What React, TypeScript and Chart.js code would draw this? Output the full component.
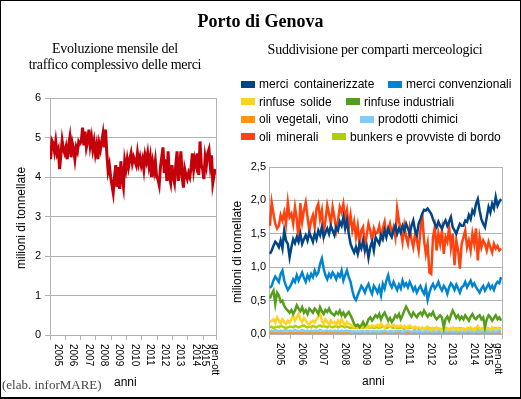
import React, { useEffect, useRef } from 'react';
import { Chart, registerables } from 'chart.js';
Chart.register(...registerables);

// ---------- data ----------
const yearLabels: (string | string[])[] = ['2005', '2006', '2007', '2008', '2009', '2010', '2011', '2012', '2013', '2014', ['gen-ott', '2015']];
const monthsPerYear = [12, 12, 12, 12, 12, 12, 12, 12, 12, 12, 10];

const totalTraffic = [
  4.45, 4.92, 4.85, 4.65, 4.90, 4.60, 4.70, 4.20, 4.55, 4.92, 4.70, 4.60,
  4.75, 4.45, 4.80, 5.00, 4.50, 4.85, 4.70, 4.45, 4.75, 4.65, 4.90, 4.85,
  4.90, 5.25, 4.80, 5.15, 4.75, 4.90, 5.20, 4.80, 5.00, 4.70, 4.90, 4.60,
  4.80, 4.45, 4.85, 4.70, 4.90, 5.10, 4.75, 5.20, 4.60, 4.15, 4.30, 4.00,
  3.80, 3.60, 4.00, 4.30, 3.75, 4.25, 3.70, 4.40, 3.95, 3.75, 4.40, 4.20,
  4.45, 4.25, 4.45, 4.60, 4.35, 4.50, 4.40, 4.30, 4.60, 4.35, 4.50, 4.30,
  4.45, 4.20, 4.55, 4.40, 4.60, 4.30, 4.50, 4.00, 4.35, 4.15, 4.40, 4.00,
  3.95, 3.80, 4.25, 4.50, 4.75, 4.10, 4.45, 3.90, 4.65, 4.00, 3.85, 4.30,
  4.00, 3.85, 4.30, 4.65, 3.90, 4.20, 4.65, 4.00, 3.73, 4.20, 4.05, 3.95,
  4.10, 4.00, 4.25, 4.60, 4.20, 4.45, 4.30, 4.60, 4.05, 4.90, 4.30, 4.20,
  3.95, 4.50, 4.30, 4.60, 4.70, 4.30, 4.55, 3.85, 4.05, 4.20,
];

const containerizzate = [
  1.20, 1.25, 1.32, 1.38, 1.35, 1.30, 1.40, 1.28, 1.55, 1.40, 1.35, 1.15,
  1.30, 1.42, 1.36, 1.45, 1.38, 1.50, 1.35, 1.42, 1.48, 1.40, 1.52, 1.45,
  1.38, 1.50, 1.42, 1.55, 1.48, 1.60, 1.45, 1.52, 1.58, 1.50, 1.62, 1.55,
  1.48, 1.60, 1.55, 1.68, 1.62, 1.75, 1.58, 1.70, 1.50, 1.35, 1.28, 1.22,
  1.30, 1.20, 1.35, 1.28, 1.40, 1.25, 1.32, 1.14, 1.30, 1.38, 1.25, 1.45,
  1.40, 1.35, 1.48, 1.42, 1.55, 1.45, 1.58, 1.50, 1.45, 1.55, 1.62, 1.50,
  1.58, 1.52, 1.62, 1.55, 1.65, 1.58, 1.50, 1.62, 1.70, 1.55, 1.48, 1.65,
  1.72, 1.80, 1.86, 1.85, 1.88, 1.84, 1.80, 1.72, 1.65, 1.60, 1.68, 1.62,
  1.58, 1.65, 1.70, 1.62, 1.68, 1.75, 1.60, 1.55, 1.50, 1.58, 1.65, 1.62,
  1.62, 1.70, 1.68, 1.78, 1.72, 1.85, 1.80, 1.95, 2.02, 1.85, 1.72, 1.65,
  1.60, 1.75, 1.90, 1.82, 1.95, 1.88, 2.05, 1.92, 1.98, 2.02,
];

const convenzionali = [
  0.69, 0.72, 0.80, 0.86, 0.82, 0.78, 0.90, 0.95, 0.80, 0.72, 0.66, 0.70,
  0.75, 0.82, 0.78, 0.88, 0.80, 0.86, 0.92, 0.84, 0.78, 0.88, 0.82, 0.90,
  0.85, 0.95, 0.88, 0.92, 1.05, 1.13, 0.98, 0.88, 0.82, 0.90, 0.85, 0.92,
  0.88, 0.82, 0.90, 0.86, 0.95, 0.80, 0.88, 0.95, 0.85, 0.78, 0.65, 0.55,
  0.51, 0.58, 0.65, 0.72, 0.68, 0.62, 0.70, 0.75, 0.66, 0.60, 0.72, 0.68,
  0.62, 0.70, 0.58, 0.75, 0.68, 0.80, 0.88, 0.75, 0.70, 0.78, 0.72, 0.66,
  0.74, 0.68, 0.80, 0.72, 0.76, 0.70, 0.78, 0.72, 0.65, 0.70, 0.62, 0.68,
  0.72, 0.65, 0.60, 0.70, 0.51, 0.62, 0.70, 0.75, 0.68, 0.72, 0.78, 0.70,
  0.65, 0.72, 0.68, 0.60, 0.70, 0.76, 0.72, 0.66, 0.74, 0.68, 0.62, 0.70,
  0.72, 0.78, 0.70, 0.75, 0.80, 0.72, 0.76, 0.70, 0.66, 0.62, 0.68, 0.72,
  0.65, 0.70, 0.75, 0.68, 0.72, 0.66, 0.74, 0.78, 0.76, 0.85,
];

const rinfuseSolide = [
  0.18, 0.20, 0.22, 0.17, 0.25, 0.20, 0.16, 0.22, 0.18, 0.15, 0.20, 0.17,
  0.22, 0.28, 0.20, 0.25, 0.30, 0.22, 0.18, 0.24, 0.20, 0.16, 0.14, 0.18,
  0.20, 0.17, 0.22, 0.26, 0.30, 0.20, 0.15, 0.22, 0.18, 0.14, 0.20, 0.16,
  0.18, 0.14, 0.20, 0.15, 0.22, 0.17, 0.13, 0.18, 0.15, 0.14, 0.12, 0.10,
  0.11, 0.09, 0.12, 0.10, 0.14, 0.11, 0.09, 0.12, 0.10, 0.13, 0.11, 0.12,
  0.14, 0.11, 0.16, 0.12, 0.10, 0.13, 0.15, 0.11, 0.12, 0.14, 0.10, 0.12,
  0.11, 0.13, 0.10, 0.12, 0.09, 0.11, 0.13, 0.10, 0.08, 0.11, 0.09, 0.10,
  0.08, 0.10, 0.07, 0.09, 0.11, 0.08, 0.06, 0.09, 0.07, 0.10, 0.08, 0.07,
  0.06, 0.08, 0.07, 0.09, 0.06, 0.08, 0.10, 0.07, 0.09, 0.06, 0.08, 0.07,
  0.08, 0.06, 0.09, 0.07, 0.10, 0.08, 0.06, 0.09, 0.12, 0.08, 0.07, 0.09,
  0.07, 0.09, 0.08, 0.06, 0.10, 0.08, 0.07, 0.09, 0.08, 0.07,
];

const rinfuseIndustriali = [
  0.53, 0.60, 0.65, 0.45, 0.62, 0.58, 0.48, 0.50, 0.42, 0.38, 0.35, 0.32,
  0.36, 0.30, 0.35, 0.43, 0.38, 0.34, 0.40, 0.32, 0.36, 0.30, 0.38, 0.35,
  0.32, 0.38, 0.35, 0.30, 0.40, 0.34, 0.30, 0.36, 0.33, 0.38, 0.32, 0.30,
  0.28, 0.33, 0.30, 0.35, 0.28, 0.32, 0.26, 0.30, 0.33, 0.28, 0.22, 0.15,
  0.12, 0.14, 0.10, 0.13, 0.18, 0.12, 0.15, 0.22, 0.25, 0.20, 0.24, 0.28,
  0.25, 0.30, 0.22, 0.28, 0.32, 0.26, 0.20, 0.24, 0.18, 0.22, 0.28, 0.25,
  0.30, 0.22, 0.28, 0.35, 0.41, 0.36, 0.30, 0.26, 0.32, 0.28, 0.25, 0.30,
  0.32, 0.28, 0.35, 0.30, 0.26, 0.30, 0.28, 0.33, 0.26, 0.22, 0.25, 0.28,
  0.25, 0.10, 0.22, 0.26, 0.20, 0.28, 0.35, 0.30, 0.24, 0.28, 0.22, 0.26,
  0.22, 0.28, 0.24, 0.20, 0.26, 0.30, 0.24, 0.22, 0.26, 0.28, 0.22, 0.25,
  0.10, 0.22, 0.28, 0.25, 0.20, 0.24, 0.28, 0.22, 0.25, 0.20,
];

const oliVegetali = [
  0.02, 0.01, 0.02, 0.02, 0.01, 0.02, 0.01, 0.02, 0.02, 0.01, 0.02, 0.01,
  0.01, 0.02, 0.01, 0.02, 0.02, 0.01, 0.02, 0.01, 0.01, 0.02, 0.01, 0.02,
  0.02, 0.01, 0.02, 0.01, 0.01, 0.02, 0.01, 0.02, 0.01, 0.01, 0.02, 0.01,
  0.01, 0.02, 0.01, 0.01, 0.02, 0.01, 0.01, 0.02, 0.01, 0.01, 0.01, 0.02,
  0.01, 0.01, 0.02, 0.01, 0.01, 0.01, 0.02, 0.01, 0.01, 0.02, 0.01, 0.01,
  0.01, 0.02, 0.01, 0.01, 0.01, 0.02, 0.01, 0.01, 0.02, 0.01, 0.01, 0.01,
  0.02, 0.01, 0.01, 0.01, 0.02, 0.01, 0.01, 0.01, 0.02, 0.01, 0.01, 0.02,
  0.01, 0.01, 0.01, 0.02, 0.01, 0.01, 0.02, 0.01, 0.01, 0.01, 0.02, 0.01,
  0.01, 0.02, 0.01, 0.01, 0.01, 0.02, 0.01, 0.01, 0.01, 0.02, 0.01, 0.01,
  0.02, 0.01, 0.01, 0.01, 0.02, 0.01, 0.01, 0.02, 0.01, 0.01, 0.01, 0.02,
  0.01, 0.01, 0.02, 0.01, 0.01, 0.01, 0.02, 0.01, 0.01, 0.02,
];

const prodottiChimici = [
  0.04, 0.05, 0.04, 0.06, 0.05, 0.04, 0.05, 0.04, 0.05, 0.06, 0.04, 0.05,
  0.05, 0.04, 0.06, 0.05, 0.04, 0.05, 0.06, 0.05, 0.04, 0.05, 0.04, 0.05,
  0.04, 0.05, 0.05, 0.04, 0.06, 0.05, 0.04, 0.05, 0.05, 0.04, 0.05, 0.04,
  0.05, 0.04, 0.05, 0.04, 0.05, 0.04, 0.04, 0.05, 0.04, 0.04, 0.03, 0.04,
  0.03, 0.04, 0.03, 0.04, 0.04, 0.03, 0.04, 0.04, 0.03, 0.04, 0.04, 0.03,
  0.04, 0.03, 0.04, 0.04, 0.05, 0.04, 0.03, 0.04, 0.04, 0.03, 0.04, 0.04,
  0.04, 0.04, 0.03, 0.04, 0.04, 0.05, 0.04, 0.03, 0.04, 0.04, 0.03, 0.04,
  0.04, 0.03, 0.04, 0.04, 0.03, 0.04, 0.04, 0.03, 0.04, 0.03, 0.04, 0.04,
  0.03, 0.04, 0.04, 0.03, 0.04, 0.04, 0.03, 0.04, 0.03, 0.04, 0.04, 0.03,
  0.04, 0.03, 0.04, 0.04, 0.03, 0.04, 0.03, 0.04, 0.04, 0.03, 0.04, 0.04,
  0.03, 0.04, 0.04, 0.03, 0.04, 0.04, 0.03, 0.04, 0.04, 0.05,
];

const oliMinerali = [
  1.62, 1.97, 1.80, 1.65, 1.58, 1.62, 1.78, 1.70, 1.82, 1.65, 1.97, 1.75,
  1.80, 1.65, 1.90, 1.72, 1.40, 1.96, 1.68, 1.85, 1.97, 1.75, 1.55, 1.70,
  1.78, 1.60, 1.88, 1.95, 1.72, 1.85, 1.50, 1.70, 1.93, 1.80, 1.65, 1.90,
  1.75, 1.55, 1.70, 1.90, 1.82, 1.95, 1.72, 1.85, 1.60, 1.78, 1.55, 1.68,
  1.45, 1.62, 1.35, 1.55, 1.60, 1.28, 1.48, 1.65, 1.55, 1.40, 1.58, 1.50,
  1.52, 1.62, 1.45, 1.58, 1.68, 1.48, 1.55, 1.65, 1.50, 1.60, 1.45, 1.88,
  1.70, 1.55, 1.38, 1.62, 1.45, 1.35, 1.58, 1.42, 1.30, 1.50, 1.40, 1.25,
  1.55, 1.80, 1.40, 1.20, 1.35, 0.92, 0.90, 1.45, 1.60, 1.25, 1.50, 1.35,
  1.55, 1.20, 1.45, 1.38, 1.60, 1.30, 1.50, 1.03, 1.40, 1.25, 0.98, 1.35,
  1.45, 1.55, 1.30, 1.40, 1.25, 1.50, 1.35, 1.58, 1.10, 1.45, 1.30, 1.40,
  1.35, 1.25, 1.38, 1.30, 1.22, 1.35, 1.28, 1.32, 1.25, 1.28,
];

const bunkers = [
  0.10, 0.11, 0.09, 0.10, 0.11, 0.10, 0.12, 0.11, 0.10, 0.09, 0.10, 0.11,
  0.11, 0.10, 0.12, 0.11, 0.10, 0.11, 0.12, 0.13, 0.11, 0.10, 0.11, 0.10,
  0.12, 0.11, 0.10, 0.12, 0.13, 0.11, 0.12, 0.11, 0.10, 0.12, 0.11, 0.10,
  0.11, 0.12, 0.10, 0.11, 0.12, 0.11, 0.10, 0.11, 0.10, 0.09, 0.10, 0.09,
  0.09, 0.10, 0.09, 0.10, 0.09, 0.10, 0.11, 0.10, 0.09, 0.10, 0.09, 0.10,
  0.10, 0.09, 0.10, 0.11, 0.10, 0.09, 0.10, 0.11, 0.10, 0.09, 0.10, 0.09,
  0.09, 0.10, 0.09, 0.08, 0.09, 0.10, 0.09, 0.10, 0.09, 0.08, 0.09, 0.08,
  0.08, 0.09, 0.08, 0.09, 0.08, 0.09, 0.08, 0.07, 0.08, 0.09, 0.08, 0.08,
  0.07, 0.08, 0.09, 0.08, 0.07, 0.08, 0.09, 0.08, 0.07, 0.08, 0.09, 0.08,
  0.08, 0.07, 0.08, 0.09, 0.08, 0.07, 0.08, 0.09, 0.08, 0.07, 0.08, 0.09,
  0.08, 0.09, 0.08, 0.07, 0.08, 0.09, 0.08, 0.09, 0.08, 0.09,
];

const leftTicks = [0, 1, 2, 3, 4, 5, 6];
const rightTicks = [0, 0.5, 1, 1.5, 2, 2.5];

const seriesNames = [
  'merci containerizzate', 'merci convenzionali', 'rinfuse solide', 'rinfuse industriali',
  'oli vegetali, vino', 'prodotti chimici', 'oli minerali', 'bunkers e provviste di bordo',
];
const seriesColors = ['#004586', '#0084d1', '#ffd320', '#579d1c', '#ff950e', '#83caff', '#ff420e', '#aecf00'];
const seriesData = [containerizzate, convenzionali, rinfuseSolide, rinfuseIndustriali, oliVegetali, prodottiChimici, oliMinerali, bunkers];

// ---------- helpers ----------
const SANS = '"Liberation Sans", Arial, sans-serif';
const SERIF = '"Liberation Serif", "Times New Roman", serif';
const GRID = '#b3b3b3';

const boundaries: number[] = [0];
monthsPerYear.forEach((m) => boundaries.push(boundaries[boundaries.length - 1] + m));
const nMonths = boundaries[boundaries.length - 1];

const toPoints = (arr: number[]) => arr.map((v, i) => ({ x: i + 0.5, y: v }));

const framePlugin = {
  id: 'frameAndYears',
  beforeDatasetsDraw(chart: any) {
    const { ctx, chartArea } = chart;
    ctx.save();
    ctx.strokeStyle = GRID;
    ctx.lineWidth = 1;
    ctx.beginPath();
    ctx.moveTo(Math.round(chartArea.right) + 0.5, chartArea.top);
    ctx.lineTo(Math.round(chartArea.right) + 0.5, chartArea.bottom);
    ctx.stroke();
    ctx.restore();
  },
  afterDraw(chart: any) {
    const { ctx, chartArea } = chart;
    const xs = chart.scales.x;
    ctx.save();
    ctx.fillStyle = '#000';
    ctx.font = '10px ' + SANS;
    ctx.textAlign = 'left';
    ctx.textBaseline = 'middle';
    yearLabels.forEach((lab, i) => {
      const center = (boundaries[i] + boundaries[i + 1]) / 2;
      const px = xs.getPixelForValue(center);
      const lines = Array.isArray(lab) ? lab : [lab];
      ctx.save();
      ctx.translate(px, chartArea.bottom + 9);
      ctx.rotate(Math.PI / 2);
      lines.forEach((ln, j) => {
        const off = (j - (lines.length - 1) / 2) * 10;
        ctx.fillText(ln, 0, off);
      });
      ctx.restore();
    });
    ctx.restore();
  },
};

function makeOptions(yMax: number, step: number, yWidth: number, padding: any, yTickLen: number, comma: boolean) {
  return {
    responsive: false,
    animation: false as const,
    layout: { padding },
    plugins: { legend: { display: false }, tooltip: { enabled: false } },
    elements: { point: { radius: 0 }, line: { tension: 0 } },
    scales: {
      x: {
        type: 'linear' as const,
        min: 0,
        max: nMonths,
        afterBuildTicks: (s: any) => { s.ticks = boundaries.map((v) => ({ value: v })); },
        afterFit: (s: any) => { s.height = 10; },
        ticks: { display: false },
        grid: { drawOnChartArea: false, drawTicks: true, tickLength: 5, color: GRID },
        border: { display: true, color: GRID },
      },
      y: {
        min: 0,
        max: yMax,
        afterFit: (s: any) => { s.width = yWidth; },
        ticks: {
          stepSize: step,
          color: '#000',
          padding: yTickLen > 0 ? 4 : 3,
          font: { family: SANS, size: 11 },
          callback: (v: any) => (comma ? Number(v).toFixed(1).replace('.', ',') : String(v)),
        },
        grid: { color: GRID, drawTicks: yTickLen > 0, tickLength: yTickLen },
        border: { display: true, color: GRID },
      },
    },
  };
}

function LeftChart() {
  const ref = useRef<HTMLCanvasElement>(null);
  useEffect(() => {
    const chart = new Chart(ref.current as HTMLCanvasElement, {
      type: 'line',
      data: {
        datasets: [{
          data: toPoints(totalTraffic),
          borderColor: '#c5000b',
          borderWidth: 3,
          fill: false,
        }],
      },
      options: makeOptions(leftTicks[leftTicks.length - 1], 1, 50, { top: 98, bottom: 54, left: 0, right: 14 }, 5, false) as any,
      plugins: [framePlugin],
    });
    return () => chart.destroy();
  }, []);
  return <canvas ref={ref} width={230} height={399} style={{ position: 'absolute', left: 0, top: 0, width: 230, height: 399 }} />;
}

function RightChart() {
  const ref = useRef<HTMLCanvasElement>(null);
  useEffect(() => {
    const order = [4, 5, 7, 2, 3, 1, 6, 0];
    const chart = new Chart(ref.current as HTMLCanvasElement, {
      type: 'line',
      data: {
        datasets: order.map((k) => ({
          label: seriesNames[k],
          data: toPoints(seriesData[k]),
          borderColor: seriesColors[k],
          borderWidth: 2.5,
          fill: false,
        })).reverse(),
      },
      options: makeOptions(rightTicks[rightTicks.length - 1], 0.5, 39, { top: 167, bottom: 55, left: 0, right: 19 }, 0, true) as any,
      plugins: [framePlugin],
    });
    return () => chart.destroy();
  }, []);
  return <canvas ref={ref} width={291} height={399} style={{ position: 'absolute', left: 230, top: 0, width: 291, height: 399 }} />;
}

const legendPos = [
  { x: 241, y: 84 }, { x: 388, y: 84 },
  { x: 241, y: 101.5 }, { x: 346, y: 101.5 },
  { x: 241, y: 119 }, { x: 360, y: 119 },
  { x: 241, y: 136.5 }, { x: 332, y: 136.5 },
];

function rotatedText(text: string, cx: number, cy: number) {
  return (
    <div style={{
      position: 'absolute', left: cx, top: cy, transform: 'translate(-50%, -50%) rotate(-90deg)',
      whiteSpace: 'nowrap', font: '12px ' + SANS, lineHeight: '14px', color: '#000',
    }}>{text}</div>
  );
}

export default function App() {
  return (
    <div style={{ position: 'absolute', left: 0, top: 0, width: 521, height: 399, background: '#fff', overflow: 'hidden' }}>
      <LeftChart />
      <RightChart />
      <div style={{ position: 'absolute', left: 0, top: 12, width: 521, textAlign: 'center', font: 'bold 18px ' + SERIF, lineHeight: '18px', color: '#000' }}>Porto di Genova</div>
      <div style={{ position: 'absolute', left: 15, top: 41, width: 200, textAlign: 'center', font: '14px ' + SERIF, lineHeight: '16px', letterSpacing: '-0.25px', color: '#000' }}>
        Evoluzione mensile del<br />traffico complessivo delle merci
      </div>
      <div style={{ position: 'absolute', left: 275, top: 42, width: 200, textAlign: 'center', font: '14px ' + SERIF, lineHeight: '16px', letterSpacing: '-0.25px', color: '#000', whiteSpace: 'nowrap', display: 'flex', justifyContent: 'center' }}>
        Suddivisione per comparti merceologici
      </div>
      {seriesNames.map((name, i) => (
        <div key={name} style={{ position: 'absolute', left: legendPos[i].x, top: legendPos[i].y - 7, height: 14, display: 'flex', alignItems: 'center', whiteSpace: 'nowrap' }}>
          <div style={{ width: 14, height: 7, background: seriesColors[i], marginRight: 4 }} />
          <span style={{ font: '12px ' + SANS, lineHeight: '14px', color: '#000', wordSpacing: i % 2 === 0 ? '2px' : '0px' }}>{name}</span>
        </div>
      ))}
      {rotatedText('milioni di tonnellate', 21, 218)}
      {rotatedText('milioni di tonnellate', 237, 252)}
      <div style={{ position: 'absolute', left: 114, top: 375, font: '12px ' + SANS, lineHeight: '14px', color: '#000' }}>anni</div>
      <div style={{ position: 'absolute', left: 362, top: 374, font: '12px ' + SANS, lineHeight: '14px', color: '#000' }}>anni</div>
      <div style={{ position: 'absolute', left: 2, top: 377, font: '13px ' + SERIF, lineHeight: '15px', color: '#444' }}>(elab. inforMARE)</div>
      <div style={{ position: 'absolute', left: 0, top: 0, width: 521, height: 399, boxSizing: 'border-box', border: '1px solid #000', borderBottomWidth: 2, pointerEvents: 'none' }} />
    </div>
  );
}
